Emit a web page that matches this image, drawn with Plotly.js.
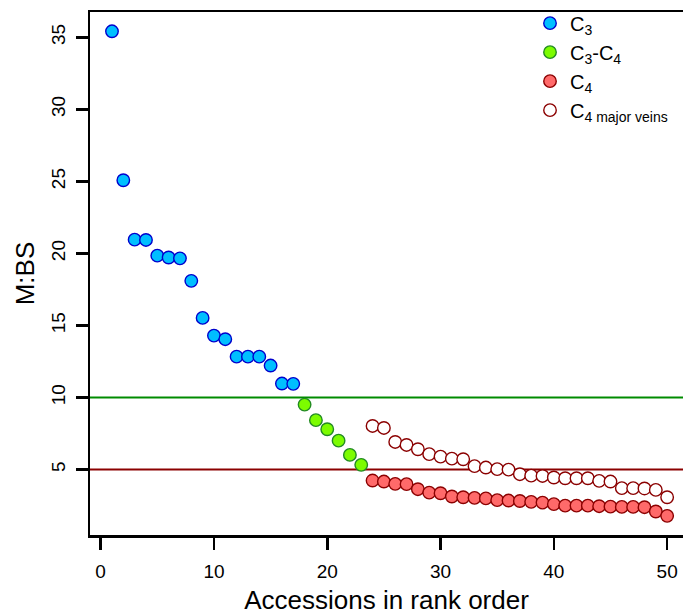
<!DOCTYPE html>
<html>
<head>
<meta charset="utf-8">
<script src="https://cdn.plot.ly/plotly-3.0.1.min.js"></script>
<style>html,body{margin:0;padding:0;background:#fff;overflow:hidden}</style>
</head>
<body>
<div id="chart" style="width:683px;height:615px"></div>
<script>
// ---- data ----
const c3Rank = [1,2,3,4,5,6,7,8,9,10,11,12,13,14,15,16,17];
const c3Ratio = [35.42,25.08,20.96,20.94,19.85,19.72,19.66,18.10,15.53,14.30,14.05,12.84,12.84,12.84,12.22,10.97,10.95];

const c3c4Rank = [18,19,20,21,22,23];
const c3c4Ratio = [9.51,8.43,7.80,7.01,6.02,5.33];

const c4Rank = [24,25,26,27,28,29,30,31,32,33,34,35,36,37,38,39,40,41,42,43,44,45,46,47,48,49,50];
const c4Ratio = [4.24,4.17,4.01,3.99,3.64,3.40,3.36,3.13,3.08,3.04,3.00,2.88,2.85,2.82,2.76,2.71,2.60,2.50,2.50,2.50,2.46,2.43,2.41,2.41,2.39,2.09,1.79];

const c4VeinRank = [24,25,26,27,28,29,30,31,32,33,34,35,36,37,38,39,40,41,42,43,44,45,46,47,48,49,50];
const c4VeinRatio = [8.03,7.89,6.92,6.71,6.41,6.07,5.90,5.76,5.72,5.24,5.14,5.03,5.00,4.68,4.58,4.56,4.45,4.40,4.40,4.40,4.22,4.17,3.71,3.71,3.69,3.59,3.08];

const thresholds = [10, 5];
const thresholdColors = ['#008B00', '#8B0000'];

const xTicks = [0,10,20,30,40,50];
const yTicks = [5,10,15,20,25,30,35];

const seriesNames = ['C<sub>3</sub>', 'C<sub>3</sub>-C<sub>4</sub>', 'C<sub>4</sub>', 'C<sub>4 major veins</sub>'];

// ---- chart ----
const font = 'Liberation Sans, Arial, Helvetica, sans-serif';
function pts(x, y, name, fill, edge) {
  return {
    x: x, y: y, name: name, type: 'scatter', mode: 'markers',
    marker: {size: 12.5, color: fill, line: {color: edge, width: 1.4}},
    hoverinfo: 'x+y'
  };
}
const traces = [
  pts(c3Rank, c3Ratio, seriesNames[0], '#00BFFF', '#0000CD'),
  pts(c3c4Rank, c3c4Ratio, seriesNames[1], '#7CFC00', '#228B22'),
  pts(c4Rank, c4Ratio, seriesNames[2], '#FF6A6A', '#8B0000'),
  pts(c4VeinRank, c4VeinRatio, seriesNames[3], '#FFFFFF', '#8B0000')
];

const shapes = thresholds.map((v, i) => ({
  type: 'line', xref: 'paper', yref: 'y', x0: 0, x1: 1, y0: v, y1: v,
  line: {color: thresholdColors[i], width: 2}, layer: 'below'
}));

const layout = {
  width: 683, height: 615,
  margin: {l: 90, r: 0, t: 12, b: 80},
  paper_bgcolor: '#fff', plot_bgcolor: '#fff',
  font: {family: font, color: '#000', size: 19},
  showlegend: true,
  legend: {
    x: 0.742, y: 1.016, xanchor: 'left', yanchor: 'top',
    bgcolor: 'rgba(0,0,0,0)', font: {size: 20, family: font, color: '#000'},
    itemwidth: 30, tracegroupgap: 0
  },
  shapes: shapes,
  xaxis: {
    range: [-0.94, 51.4], tickvals: xTicks, ticktext: xTicks.map(String),
    showgrid: false, zeroline: false,
    showline: true, mirror: true, linecolor: '#000', linewidth: 2.5,
    ticks: 'outside', ticklen: 12, tickwidth: 2.5, tickcolor: '#000',
    tickfont: {size: 19, family: font}, ticklabelstandoff: 6,
    title: {text: 'Accessions in rank order', font: {size: 26, family: font}, standoff: 19}
  },
  yaxis: {
    range: [0.46, 36.76], tickvals: yTicks, ticktext: yTicks.map(String),
    showgrid: false, zeroline: false,
    showline: true, mirror: false, linecolor: '#000', linewidth: 2.5,
    ticks: 'outside', ticklen: 12, tickwidth: 2.5, tickcolor: '#000',
    tickangle: -90, tickfont: {size: 19, family: font}, ticklabelstandoff: 3,
    title: {text: 'M:BS', font: {size: 26, family: font}, standoff: 6}
  }
};

Plotly.newPlot('chart', traces, layout, {displayModeBar: false, staticPlot: true});
</script>
</body>
</html>
